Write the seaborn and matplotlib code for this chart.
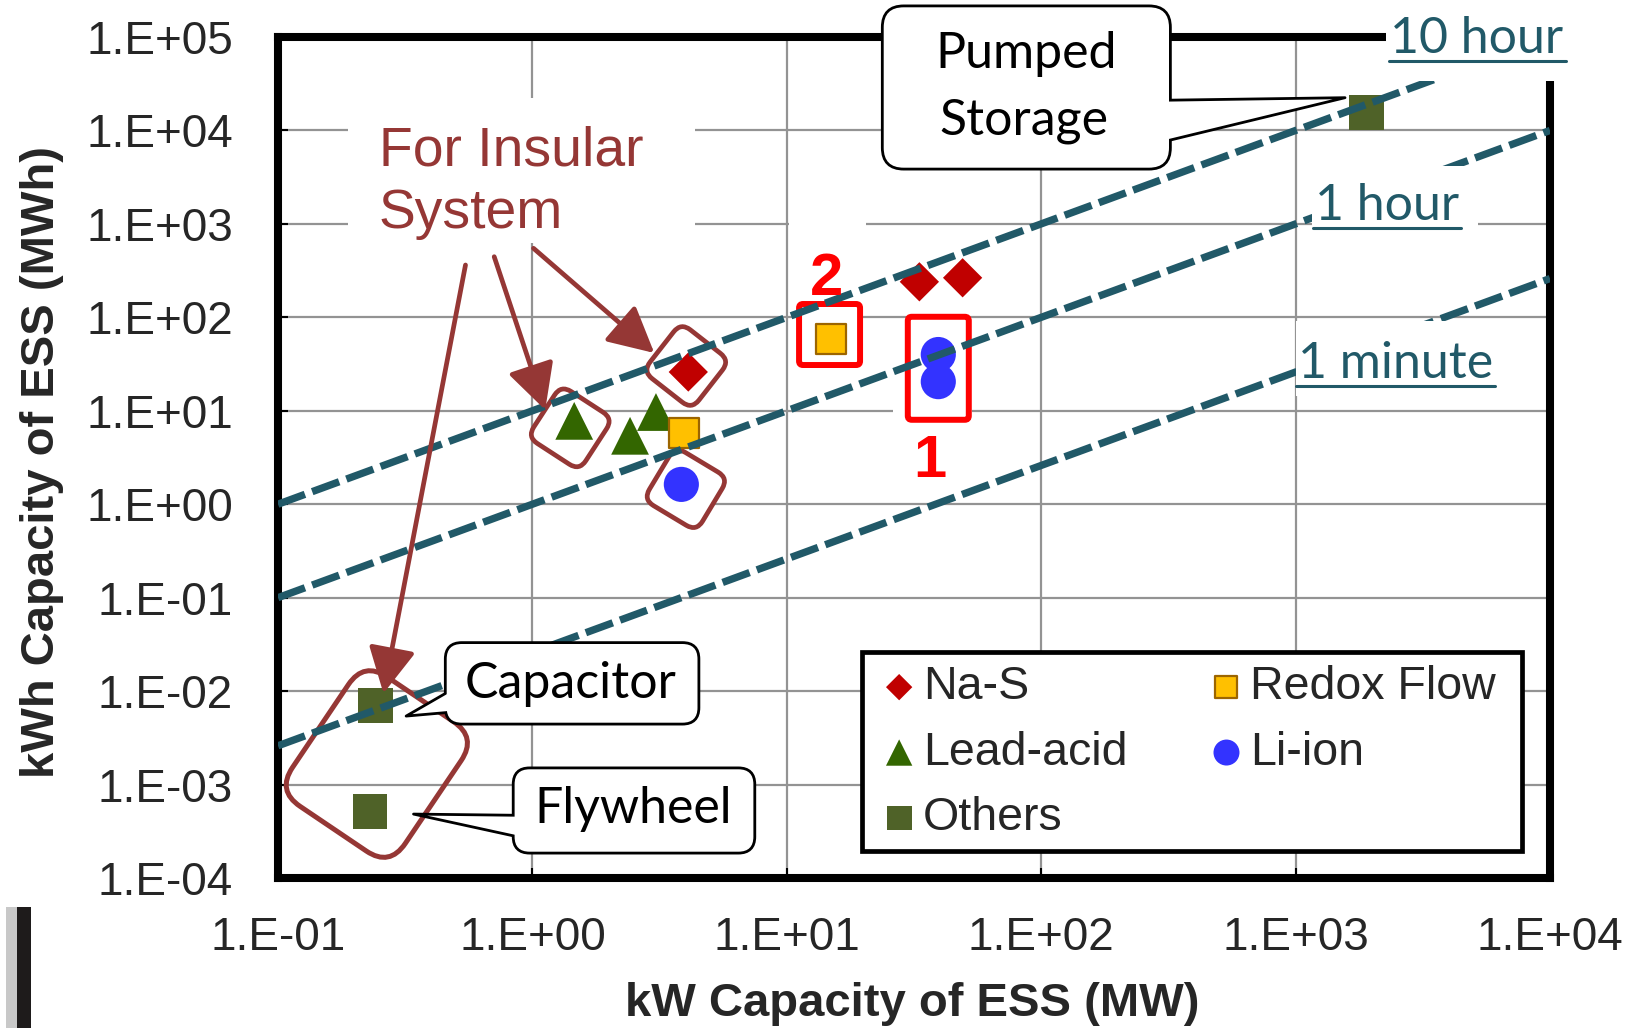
import numpy as np
import pandas as pd
import matplotlib
matplotlib.use("Agg")
import matplotlib.pyplot as plt
import matplotlib.transforms as mtransforms
from matplotlib.patches import FancyBboxPatch, Rectangle
from matplotlib.lines import Line2D
from matplotlib.ticker import FixedLocator, FuncFormatter, NullLocator
import seaborn as sns

# ---------------- data ----------------
nas_mw = [4.1, 33.2, 49.1]
nas_mwh = [26.0, 240.0, 265.0]
lead_mw = [1.46, 2.42, 3.06]
lead_mwh = [7.8, 5.4, 9.7]
redox_mw = [3.93, 14.9]
redox_mwh = [5.8, 58.9]
li_mw = [3.85, 39.4, 39.4]
li_mwh = [1.63, 40.0, 20.5]
oth_mw = [1897.0, 0.242, 0.230]          # Pumped storage, Capacitor, Flywheel
oth_mwh = [15450.0, 0.0070, 0.00051]

series_names = ["Na-S", "Lead-acid", "Others", "Redox Flow", "Li-ion"]
duration_h = [10.0, 1.0, 0.026]
duration_labels = ["10 hour", "1 hour", "1 minute"]
x_exp = [-1, 0, 1, 2, 3, 4]
y_exp = [-4, -3, -2, -1, 0, 1, 2, 3, 4, 5]
xlabel = "kW Capacity of ESS (MW)"
ylabel = "kWh Capacity of ESS (MWh)"

df = pd.concat([
    pd.DataFrame({"mw": nas_mw, "mwh": nas_mwh, "type": "Na-S"}),
    pd.DataFrame({"mw": lead_mw, "mwh": lead_mwh, "type": "Lead-acid"}),
    pd.DataFrame({"mw": oth_mw, "mwh": oth_mwh, "type": "Others"}),
    pd.DataFrame({"mw": redox_mw, "mwh": redox_mwh, "type": "Redox Flow"}),
    pd.DataFrame({"mw": li_mw, "mwh": li_mwh, "type": "Li-ion"}),
], ignore_index=True)

# ---------------- style ----------------
sns.set_style("white")
plt.rcParams["font.family"] = ["Liberation Sans", "DejaVu Sans"]
CAL = ["Lato", "DejaVu Sans"]
TEAL = "#215968"
MAROON = "#953735"
RED = "#FF0000"

marker_style = {
    "Na-S": dict(marker="D", s=400, color="#C00000", edgecolor="none", linewidth=0),
    "Lead-acid": dict(marker="^", s=740, color="#336600", edgecolor="none", linewidth=0),
    "Others": dict(marker="s", s=630, color="#4F6228", edgecolor="none", linewidth=0),
    "Redox Flow": dict(marker="s", s=450, color="#FFC000", edgecolor="#9C6500", linewidth=1.6),
    "Li-ion": dict(marker="o", s=640, color="#3333FF", edgecolor="none", linewidth=0),
}
legend_sizes = {"Na-S": 180, "Lead-acid": 360, "Others": 320, "Redox Flow": 270, "Li-ion": 350}

W_PX, H_PX = 1639, 1028
fig = plt.figure(figsize=(W_PX / 100, H_PX / 100), dpi=100)
ax = fig.add_axes([278 / W_PX, 150 / H_PX, 1272 / W_PX, 841 / H_PX])
img = mtransforms.Affine2D().scale(1, -1).translate(0, H_PX)   # image-pixel frame

ax.set_xscale("log")
ax.set_yscale("log")
ax.set_xlim(10.0 ** x_exp[0], 10.0 ** x_exp[-1])
ax.set_ylim(10.0 ** y_exp[0], 10.0 ** y_exp[-1])

for name in series_names:
    sub = df[df["type"] == name]
    sns.scatterplot(data=sub, x="mw", y="mwh", ax=ax, label=name, zorder=2,
                    **marker_style[name])

# duration lines
x_ends = np.array([10.0 ** x_exp[0], 10.0 ** x_exp[-1]])
for h in duration_h:
    sns.lineplot(x=x_ends, y=x_ends * h, ax=ax, color=TEAL, linewidth=5.3,
                 linestyle=(0, (3.9, 1.05)), zorder=3, legend=False)

ax.set_xlim(10.0 ** x_exp[0], 10.0 ** x_exp[-1])
ax.set_ylim(10.0 ** y_exp[0], 10.0 ** y_exp[-1])

# axes cosmetics
ax.xaxis.set_major_locator(FixedLocator([10.0 ** e for e in x_exp]))
ax.yaxis.set_major_locator(FixedLocator([10.0 ** e for e in y_exp]))
ax.xaxis.set_minor_locator(NullLocator())
ax.yaxis.set_minor_locator(NullLocator())
fmt = FuncFormatter(lambda v, p: "1.E{:+03d}".format(int(round(np.log10(v)))))
ax.xaxis.set_major_formatter(fmt)
ax.yaxis.set_major_formatter(fmt)
ax.grid(True, which="major", color="#939393", linewidth=1.6)
ax.set_axisbelow(True)
ax.tick_params(axis="both", which="major", direction="in", length=7, width=1.5,
               color="black", labelsize=33, bottom=True, left=True, top=False, right=False)
ax.tick_params(axis="x", pad=27.5)
ax.tick_params(axis="y", pad=32.5)
for sp in ax.spines.values():
    sp.set_linewidth(5.8)
    sp.set_color("black")
    sp.set_capstyle("projecting")

ax.set_xlabel(xlabel, fontsize=34, fontweight="bold", va="center")
ax.xaxis.set_label_coords((912 - 278) / 1272, (878 - 1004) / 841)
ax.set_ylabel(ylabel, fontsize=34, fontweight="bold", va="center")
ax.yaxis.set_label_coords((42 - 278) / 1272, (878 - 462.5) / 841)

# legend (content) + its frame
handles, labels = ax.get_legend_handles_labels()
hmap = dict(zip(labels, handles))
leg = ax.legend([hmap[n] for n in series_names], series_names, ncol=2,
                loc="upper left", bbox_to_anchor=(861, 650), bbox_transform=img,
                borderaxespad=0, frameon=False, fontsize=33.5, handlelength=0.98,
                handletextpad=0.02, columnspacing=1.64, borderpad=0.33,
                labelspacing=0.46, scatterpoints=1)
leg.set_zorder(8)
for hdl, n in zip(leg.legend_handles, series_names):
    hdl.set_sizes([legend_sizes[n]])
ax.add_artist(Rectangle((862, 651.5), 660, 199, transform=img, facecolor="white",
                        edgecolor="black", linewidth=3.4, zorder=7.9, clip_on=False))


# ---------------- helpers ----------------
def at_point(x, y, dx=0.0, dy=0.0, angle=0.0):
    """Local pixel frame centred on a data point, offset (dx, dy) in image px."""
    return (mtransforms.Affine2D().rotate_deg(angle).translate(dx, -dy)
            + mtransforms.ScaledTranslation(x, y, ax.transData))


def rbox(trans, x0, y0, w, h, r, **kw):
    p = FancyBboxPatch((x0, y0), w, h, boxstyle=f"round,pad=0,rounding_size={r}",
                       transform=trans, clip_on=False, **kw)
    ax.add_artist(p)
    return p


def mask(x0, y0, x1, y1, z):
    r = Rectangle((x0, y0), x1 - x0, y1 - y0, transform=img, facecolor="white",
                  edgecolor="none", zorder=z, clip_on=False)
    ax.add_artist(r)


def off_data(dx, dy):
    return mtransforms.offset_copy(ax.transData, fig=fig, x=dx, y=-dy, units="dots")


def callout(box, text_lines, tip_xy, tip_off, base_xy, tail_pt):
    x0, y0, x1, y1, r = box
    rbox(img, x0, y0, x1 - x0, y1 - y0, r, facecolor="white", edgecolor="black",
         linewidth=4.0, zorder=6)
    ax.annotate("", xy=tip_xy, xycoords=off_data(*tip_off), xytext=base_xy, textcoords=img,
                arrowprops=dict(arrowstyle=f"wedge,tail_width={tail_pt},shrink_factor=0.5",
                                mutation_scale=1, fc="white", ec="black", lw=2.0,
                                shrinkA=0, shrinkB=0), zorder=6.1, annotation_clip=False)
    rbox(img, x0, y0, x1 - x0, y1 - y0, r, facecolor="white", edgecolor="none", zorder=6.2)
    for (tx, ty, s) in text_lines:
        ax.text(tx, ty, s, transform=img, ha="center", va="baseline", fontsize=36,
                family=CAL, color="black", zorder=6.3)


# ---------------- masks behind labels ----------------
mask(348, 98, 695, 243, 1.2)      # For Insular System
mask(789, 218, 866, 298, 1.2)     # "2"
mask(893, 405, 972, 490, 1.2)     # "1"
mask(1386, -5, 1645, 81, 6.5)     # 10 hour
mask(1312, 166, 1478, 233, 3.5)   # 1 hour
mask(1296, 321, 1500, 396, 3.5)   # 1 minute

# ---------------- duration labels ----------------
dur_pos = [(1390.5, 53.3), (1315.3, 220.0), (1298.3, 378.3)]
dur_texts = []
for (tx, ty), s in zip(dur_pos, duration_labels):
    t = ax.text(tx, ty, s, transform=img, ha="left", va="baseline", fontsize=36,
                family=CAL, color=TEAL, zorder=7)
    dur_texts.append((t, ty))

# ---------------- callouts ----------------
callout((883.7, 7.3, 1169, 167.7, 20), [(1025.8, 68.3, "Pumped"), (1023.7, 135.0, "Storage")],
        (oth_mw[0], oth_mwh[0]), (-21.3, -15.1), (1161, 121), 30)
callout((446.7, 644, 697.5, 722.7, 15), [(570.8, 698.3, "Capacitor")],
        (oth_mw[1], oth_mwh[1]), (30.5, 10.5), (454, 701), 16)
callout((514.6, 769.3, 753.4, 851.7, 15), [(633.5, 823.3, "Flywheel")],
        (oth_mw[2], oth_mwh[2]), (43.5, 2.2), (522, 826.4), 16)

# ---------------- insular system annotations ----------------
ax.text(379, 165.7, "For Insular", transform=img, ha="left", va="baseline",
        fontsize=39.8, color=MAROON, zorder=4)
ax.text(379, 228.3, "System", transform=img, ha="left", va="baseline",
        fontsize=39.8, color=MAROON, zorder=4)

ins_shapes = [
    (nas_mw[0], nas_mwh[0], -2, -6, -38),
    (lead_mw[0], lead_mwh[0], -4, 7, -33),
    (li_mw[0], li_mwh[0], 4.5, 4.5, -31),
]
for (px, py, dx, dy, ang) in ins_shapes:
    rbox(at_point(px, py, dx, dy, ang), -31, -31, 62, 62, 12, facecolor="white",
         edgecolor=MAROON, linewidth=3.4, zorder=1.5)

gx = np.sqrt(oth_mw[1] * oth_mw[2])
gy = np.sqrt(oth_mwh[1] * oth_mwh[2])
rbox(at_point(gx, gy, 4, 5.3, -34), -68, -78, 136, 156, 28, facecolor="none",
     edgecolor=MAROON, linewidth=3.6, zorder=2.8)

arrows = [
    ((nas_mw[0], nas_mwh[0]), (-34, -19), (533.5, 248.3)),
    ((lead_mw[0], lead_mwh[0]), (-29, -11), (494.2, 256.7)),
    ((oth_mw[1], oth_mwh[1]), (7.8, -12.2), (465.5, 265.0)),
]
for tip, toff, start in arrows:
    ax.annotate("", xy=tip, xycoords=off_data(*toff), xytext=start, textcoords=img,
                arrowprops=dict(arrowstyle="-|>,head_length=28,head_width=14.5",
                                mutation_scale=1, color=MAROON, lw=3.4,
                                shrinkA=0, shrinkB=0), zorder=4, annotation_clip=False)

# ---------------- red boxes "1" and "2" ----------------
rbox(at_point(redox_mw[1], redox_mwh[1], -1.3, -4.3), -30.5, -30.5, 61, 61, 4,
     facecolor="white", edgecolor=RED, linewidth=4.3, zorder=1.6)
lx = np.sqrt(li_mw[1] * li_mw[2])
ly = np.sqrt(li_mwh[1] * li_mwh[2])
rbox(at_point(lx, ly, 0, 0.2), -30.5, -51.5, 61, 103, 4,
     facecolor="white", edgecolor=RED, linewidth=4.3, zorder=1.6)
ax.text(826, 295, "2", transform=img, ha="center", va="baseline", fontsize=43,
        fontweight="bold", color=RED, zorder=4)
ax.text(930, 477, "1", transform=img, ha="center", va="baseline", fontsize=43,
        fontweight="bold", color=RED, zorder=4)

# cropped edge artefact at bottom-left of the reference
ax.add_artist(Rectangle((6, 907), 12, 125, transform=img, facecolor="#c8c8c8",
                        edgecolor="none", clip_on=False, zorder=9))
ax.add_artist(Rectangle((17, 907), 14, 125, transform=img, facecolor="#1e1b1b",
                        edgecolor="none", clip_on=False, zorder=9))

# underline the duration labels
fig.canvas.draw()
rend = fig.canvas.get_renderer()
for t, ty in dur_texts:
    bb = t.get_window_extent(rend)
    ax.add_artist(Line2D([bb.x0 - 2, bb.x1 + 2], [ty + 7.5, ty + 7.5], transform=img,
                         color=TEAL, linewidth=2.2, zorder=7, clip_on=False))

fig.savefig("out.png", dpi=100)
